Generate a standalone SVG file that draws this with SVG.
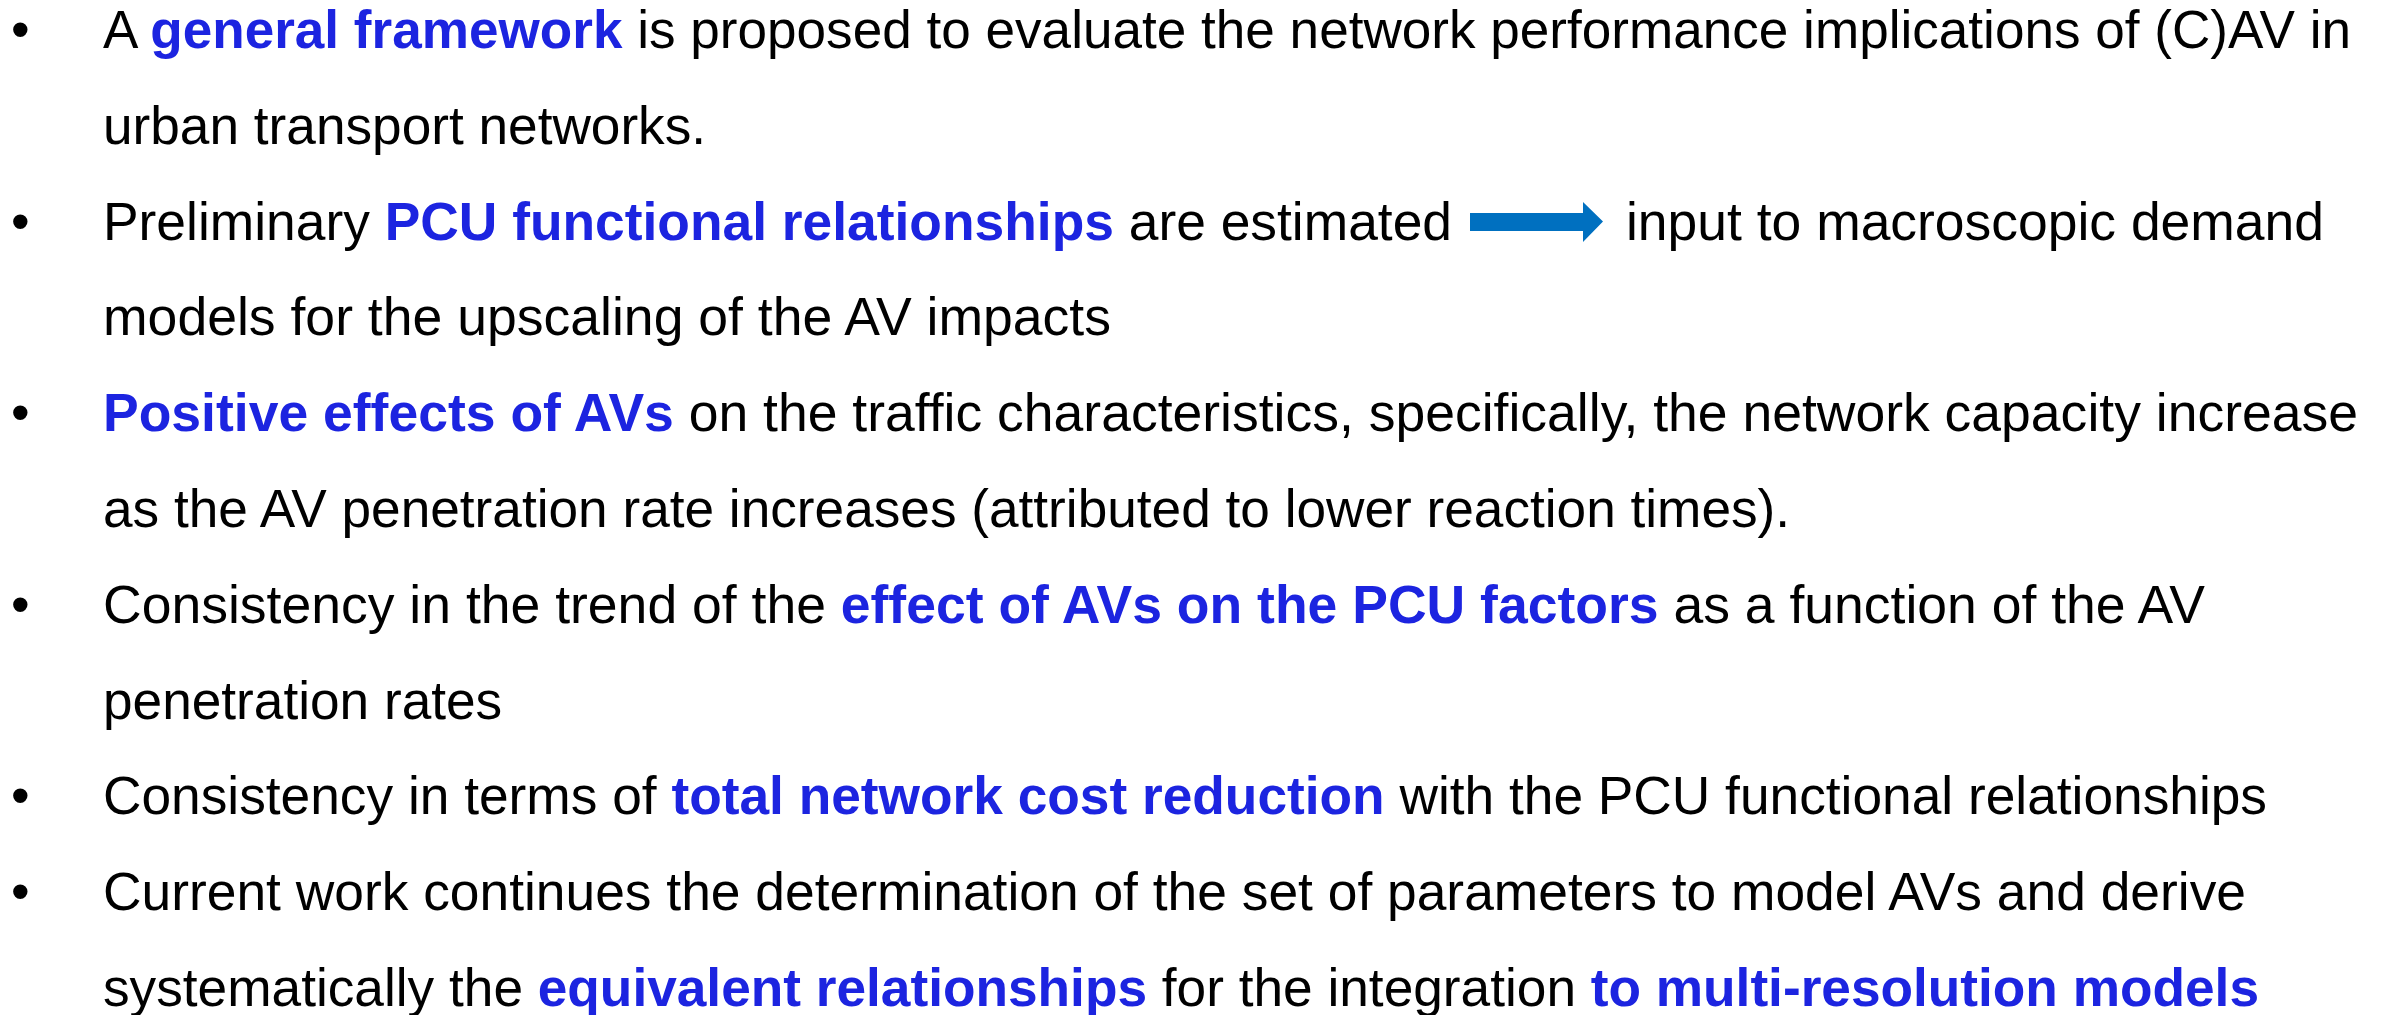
<svg xmlns="http://www.w3.org/2000/svg" width="2394" height="1015" viewBox="0 0 2394 1015">
  <style>
    text { font-family: "Liberation Sans", Arial, sans-serif; font-size: 53.2px; fill: #000000; }
    .b { font-weight: bold; fill: #1C24E0; }
    .arrow { fill: #0070C0; }
  </style>
  <rect x="0" y="0" width="2394" height="1015" fill="#ffffff"/>
  <g id="item1">
    <text x="11" y="48">•</text>
    <text x="103" y="48" textLength="2248" lengthAdjust="spacingAndGlyphs">A <tspan class="b">general framework</tspan> is proposed to evaluate the network performance implications of (C)AV in</text>
    <text x="103" y="143.8">urban transport networks.</text>
  </g>
  <g id="item2">
    <text x="11" y="239.6">•</text>
    <text x="103" y="239.6" textLength="1349" lengthAdjust="spacingAndGlyphs">Preliminary <tspan class="b">PCU functional relationships</tspan> are estimated</text>
    <text x="1626" y="239.6" textLength="698" lengthAdjust="spacingAndGlyphs">input to macroscopic demand</text>
    <text x="103" y="335.4" textLength="1008" lengthAdjust="spacingAndGlyphs">models for the upscaling of the AV impacts</text>
  </g>
  <g id="connectors">
    <polygon class="arrow" points="1470,213 1583,213 1583,202 1603,221.5 1583,242 1583,231 1470,231"/>
  </g>
  <g id="item3">
    <text x="11" y="431.2">•</text>
    <text x="103" y="431.2" textLength="2255" lengthAdjust="spacingAndGlyphs"><tspan class="b">Positive effects of AVs</tspan> on the traffic characteristics, specifically, the network capacity increase</text>
    <text x="103" y="527">as the AV penetration rate increases (attributed to lower reaction times).</text>
  </g>
  <g id="item4">
    <text x="11" y="622.8">•</text>
    <text x="103" y="622.8" textLength="2102" lengthAdjust="spacingAndGlyphs">Consistency in the trend of the <tspan class="b">effect of AVs on the PCU factors</tspan> as a function of the AV</text>
    <text x="103" y="718.6">penetration rates</text>
  </g>
  <g id="item5">
    <text x="11" y="814.4">•</text>
    <text x="103" y="814.4" textLength="2164" lengthAdjust="spacingAndGlyphs">Consistency in terms of <tspan class="b">total network cost reduction</tspan> with the PCU functional relationships</text>
  </g>
  <g id="item6">
    <text x="11" y="910.2">•</text>
    <text x="103" y="910.2" textLength="2143" lengthAdjust="spacingAndGlyphs">Current work continues the determination of the set of parameters to model AVs and derive</text>
    <text x="103" y="1006" textLength="2156" lengthAdjust="spacingAndGlyphs">systematically the <tspan class="b">equivalent relationships</tspan> for the integration <tspan class="b">to multi-resolution models</tspan></text>
  </g>
</svg>
